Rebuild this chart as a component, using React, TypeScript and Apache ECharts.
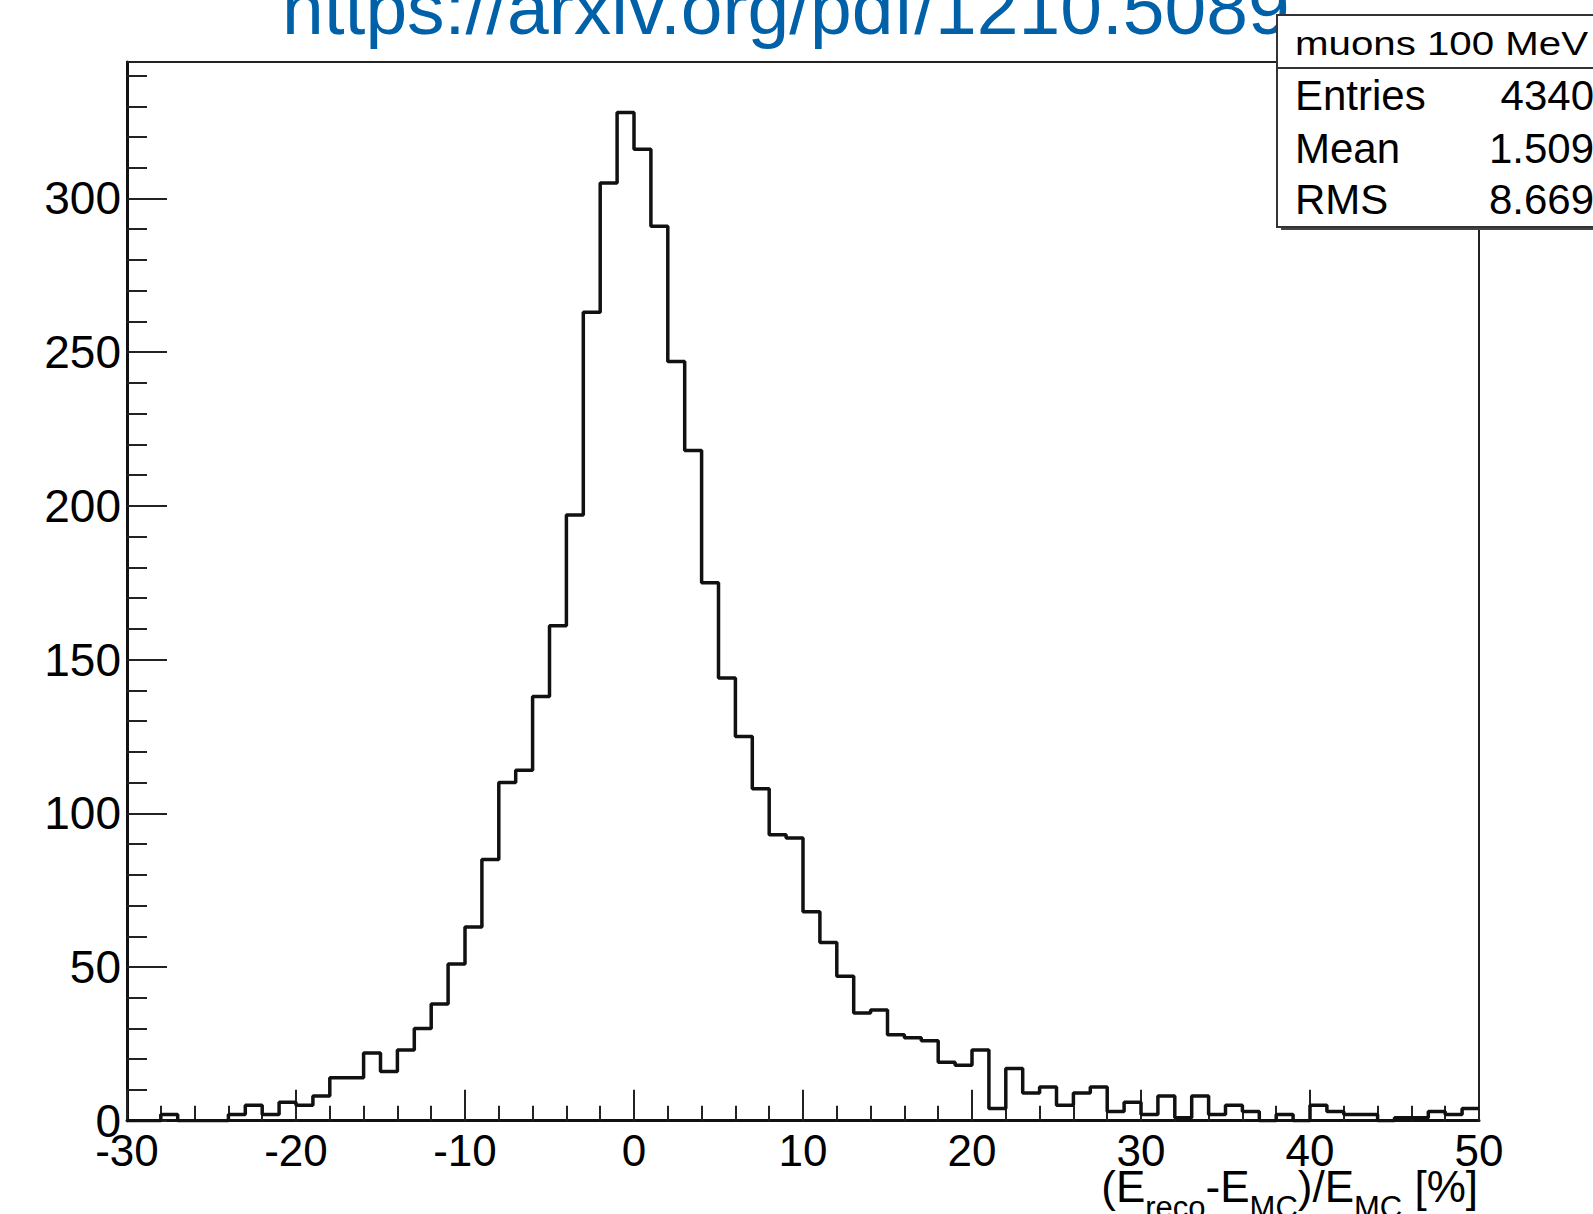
import React, { useEffect, useRef } from "react";
import * as echarts from "echarts";

// ---- data ----
const binLow = -30;
const binWidth = 1;
const counts = [
  0, 0, 2, 0, 0, 0, 2, 5, 2, 6,
  5, 8, 14, 14, 22, 16, 23, 30, 38, 51,
  63, 85, 110, 114, 138, 161, 197, 263, 305, 328,
  316, 291, 247, 218, 175, 144, 125, 108, 93, 92,
  68, 58, 47, 35, 36, 28, 27, 26, 19, 18,
  23, 4, 17, 9, 11, 5, 9, 11, 3, 6,
  2, 8, 1, 8, 2, 5, 3, 0, 2, 0,
  5, 3, 2, 2, 0, 1, 1, 3, 2, 4,
];
const xMin = -30;
const xMax = 50;
const xMajor = 10;
const xMinor = 2;
const yMin = 0;
const yMax = 344.4;
const yMajor = 50;
const yMinor = 10;

const titleText = "https://arxiv.org/pdf/1210.5089";
const statsTitle = "muons 100 MeV";
const statsLabels = ["Entries", "Mean", "RMS"];
const statsValues = ["4340", "1.509", "8.669"];

const FONT = "'Liberation Sans', Arial, Helvetica, sans-serif";

export default function App() {
  const ref = useRef<HTMLDivElement>(null);
  useEffect(() => {
    if (!ref.current) return;
    const chart = echarts.init(ref.current, undefined, { renderer: "svg" });
    const data: number[][] = counts.map((c, i) => [binLow + i * binWidth, c]);
    data.push([binLow + counts.length * binWidth, counts[counts.length - 1]]);

    const tickColor = "#222";
    const statsRowMid = [95.5, 148, 199.5];

    chart.setOption({
      animation: false,
      backgroundColor: "#fff",
      grid: {
        left: 127,
        right: 114,
        top: 62,
        bottom: 93.3,
        show: true,
        borderColor: "#222",
        borderWidth: 2,
        backgroundColor: "transparent",
      },
      xAxis: [
        {
          type: "value",
          min: xMin,
          max: xMax,
          interval: xMajor,
          position: "bottom",
          axisLine: { show: true, onZero: false, lineStyle: { color: "#111", width: 3 } },
          axisTick: { show: true, inside: true, length: 31, lineStyle: { color: tickColor, width: 2 } },
          axisLabel: { show: true, fontSize: 44, fontFamily: FONT, color: "#000", margin: 8 },
          splitLine: { show: false },
        },
        {
          type: "value",
          min: xMin,
          max: xMax,
          interval: xMinor,
          position: "bottom",
          axisLine: { show: false, onZero: false },
          axisTick: { show: true, inside: true, length: 15, lineStyle: { color: tickColor, width: 2 } },
          axisLabel: { show: false },
          splitLine: { show: false },
        },
      ],
      yAxis: [
        {
          type: "value",
          min: yMin,
          max: yMax,
          interval: yMajor,
          position: "left",
          axisLine: { show: true, onZero: false, lineStyle: { color: "#111", width: 3 } },
          axisTick: { show: true, inside: true, length: 40, lineStyle: { color: tickColor, width: 2 } },
          axisLabel: {
            show: true,
            fontSize: 46,
            fontFamily: FONT,
            color: "#000",
            margin: 6,
            formatter: (v: number) => (Math.abs(v % yMajor) < 1e-6 ? String(v) : ""),
          },
          splitLine: { show: false },
        },
        {
          type: "value",
          min: yMin,
          max: yMax,
          interval: yMinor,
          position: "left",
          axisLine: { show: false, onZero: false },
          axisTick: { show: true, inside: true, length: 20, lineStyle: { color: tickColor, width: 2 } },
          axisLabel: { show: false },
          splitLine: { show: false },
        },
      ],
      series: [
        {
          type: "line",
          xAxisIndex: 0,
          yAxisIndex: 0,
          step: "end",
          data,
          symbol: "none",
          lineStyle: { color: "#111", width: 3.5 },
          z: 5,
        },
      ],
      graphic: [
        {
          type: "text",
          x: 282,
          y: 8,
          z: 1,
          style: {
            text: titleText,
            fontSize: 75,
            fontFamily: FONT,
            fill: "#0061a8",
            align: "left",
            verticalAlign: "middle",
          },
        },
        {
          type: "rect",
          z: 20,
          shape: { x: 1281, y: 19, width: 400, height: 211 },
          style: { fill: "#444" },
        },
        {
          type: "rect",
          z: 21,
          shape: { x: 1277, y: 15, width: 400, height: 212 },
          style: { fill: "#fff", stroke: "#333", lineWidth: 2 },
        },
        {
          type: "line",
          z: 22,
          shape: { x1: 1277, y1: 68, x2: 1600, y2: 68 },
          style: { stroke: "#333", lineWidth: 2 },
        },
        {
          type: "text",
          z: 23,
          x: 1295,
          y: 44,
          scaleX: 1.22,
          style: {
            text: statsTitle,
            fontSize: 33,
            fontFamily: FONT,
            fill: "#000",
            align: "left",
            verticalAlign: "middle",
          },
        },
        ...statsLabels.map((t, i) => ({
          type: "text",
          z: 23,
          x: 1295,
          y: statsRowMid[i],
          style: {
            text: t,
            fontSize: 42,
            fontFamily: FONT,
            fill: "#000",
            align: "left",
            verticalAlign: "middle",
          },
        })),
        ...statsValues.map((t, i) => ({
          type: "text",
          z: 23,
          x: 1594,
          y: statsRowMid[i],
          style: {
            text: t,
            fontSize: 42,
            fontFamily: FONT,
            fill: "#000",
            align: "right",
            verticalAlign: "middle",
          },
        })),
        {
          type: "text",
          z: 23,
          x: 1478,
          y: 1149,
          style: {
            text: "{n|(E}{s|reco}{n|-E}{s|MC}{n|)/E}{s|MC}{n| [%]}",
            align: "right",
            verticalAlign: "top",
            rich: {
              n: { fontSize: 44, fontFamily: FONT, fill: "#000", color: "#000", lineHeight: 74, verticalAlign: "middle" },
              s: { fontSize: 31, fontFamily: FONT, fill: "#000", color: "#000", lineHeight: 32, verticalAlign: "bottom" },
            },
          },
        },
      ],
    });
    return () => chart.dispose();
  }, []);
  return (
    <div
      ref={ref}
      style={{ position: "absolute", left: 0, top: 0, width: 1593, height: 1214, background: "#fff" }}
    />
  );
}
